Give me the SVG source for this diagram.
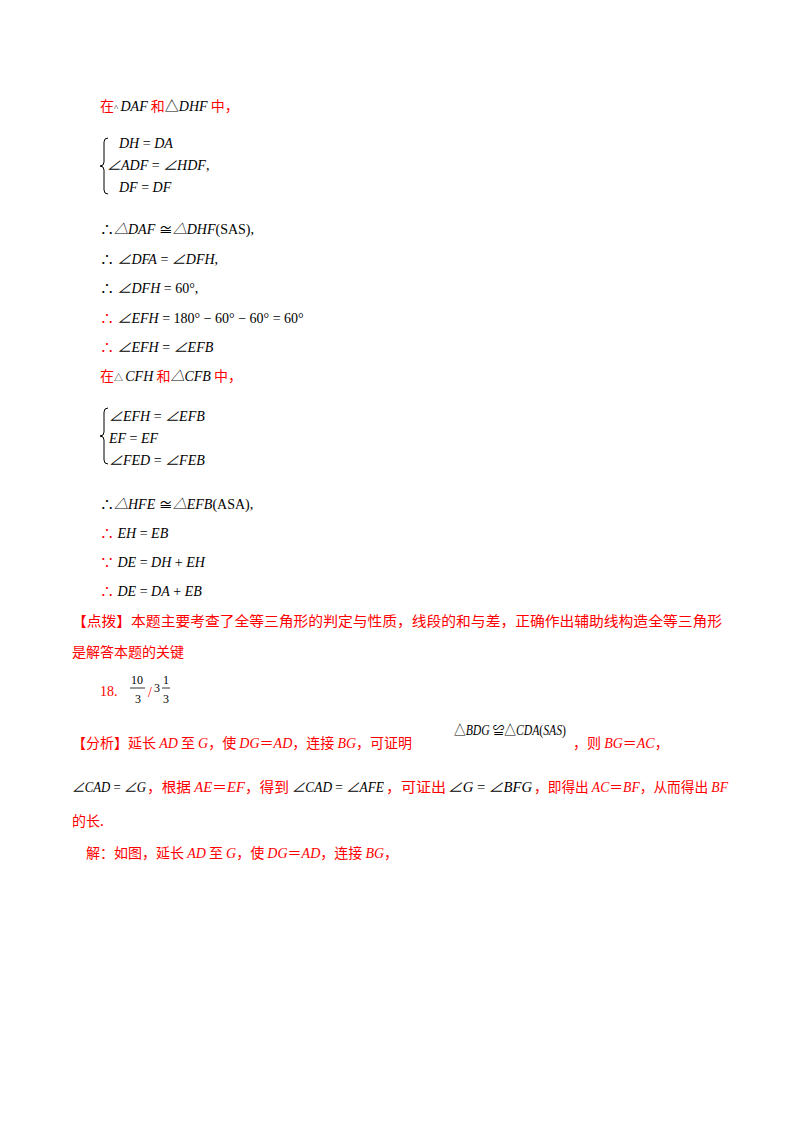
<svg xmlns="http://www.w3.org/2000/svg" width="800" height="1132" viewBox="0 0 800 1132">
<style>
text{font-family:"Liberation Serif","Noto Sans CJK SC",serif;font-size:14px;fill:#000}
.r{fill:#f00}
.c{font-family:"Noto Sans CJK SC","Liberation Serif",sans-serif}
.i{font-style:italic}
.s{font-size:12px}
.b{fill:none;stroke:#000;stroke-width:1}
</style>
<rect width="800" height="1132" fill="#fff"/>
<g id="text">
<text x="100" y="111"><tspan class="r c">在</tspan><tspan font-size="9">^ </tspan><tspan class="i">DAF</tspan><tspan class="r c"> 和</tspan>△<tspan class="i">DHF</tspan><tspan class="r c"> 中，</tspan></text>
<path class="b" d="M108,138 q-4,0 -4,4 v20 q0,4 -4,4 q4,0 4,4 v20 q0,4 4,4"/>
<text x="119" y="148" class="i">DH <tspan font-style="normal">=</tspan> DA</text>
<text x="107" y="170" class="i">∠ADF <tspan font-style="normal">=</tspan> ∠HDF<tspan font-style="normal">,</tspan></text>
<text x="119" y="192" class="i">DF <tspan font-style="normal">=</tspan> DF</text>
<text x="100" y="234">∴<tspan class="i">△DAF</tspan> ≅<tspan class="i">△DHF</tspan>(SAS),</text>
<text x="100" y="264">∴ <tspan class="i">∠DFA</tspan> = <tspan class="i">∠DFH</tspan>,</text>
<text x="100" y="293">∴ <tspan class="i">∠DFH</tspan> = 60°,</text>
<text x="100" y="323"><tspan class="r">∴</tspan> <tspan class="i">∠EFH</tspan> = 180° − 60° − 60° = 60°</text>
<text x="100" y="352"><tspan class="r">∴</tspan> <tspan class="i">∠EFH</tspan> = <tspan class="i">∠EFB</tspan></text>
<text x="100" y="381"><tspan class="r c">在</tspan><tspan font-size="9">△ </tspan><tspan class="i">CFH</tspan><tspan class="r c"> 和</tspan><tspan class="i">△CFB</tspan><tspan class="r c"> 中，</tspan></text>
<path class="b" d="M108,408 q-4,0 -4,4 v20 q0,4 -4,4 q4,0 4,4 v20 q0,4 4,4"/>
<text x="109" y="421" class="i">∠EFH <tspan font-style="normal">=</tspan> ∠EFB</text>
<text x="109" y="443" class="i">EF <tspan font-style="normal">=</tspan> EF</text>
<text x="109" y="465" class="i">∠FED <tspan font-style="normal">=</tspan> ∠FEB</text>
<text x="100" y="509">∴<tspan class="i">△HFE</tspan> ≅<tspan class="i">△EFB</tspan>(ASA),</text>
<text x="100" y="538"><tspan class="r">∴</tspan> <tspan class="i">EH</tspan> = <tspan class="i">EB</tspan></text>
<text x="100" y="567"><tspan class="r">∵</tspan> <tspan class="i">DE</tspan> = <tspan class="i">DH</tspan> + <tspan class="i">EH</tspan></text>
<text x="100" y="596"><tspan class="r">∴</tspan> <tspan class="i">DE</tspan> = <tspan class="i">DA</tspan> + <tspan class="i">EB</tspan></text>
<text x="72" y="626" class="r c" textLength="650" lengthAdjust="spacingAndGlyphs">【点拨】本题主要考查了全等三角形的判定与性质，线段的和与差，正确作出辅助线构造全等三角形</text>
<text x="72" y="657" class="r c" font-size="15">是解答本题的关键</text>
<text x="100" y="696" class="r" font-size="13">18.</text>
<text x="131" y="684" class="s">10</text>
<line x1="130" y1="688" x2="145" y2="688" stroke="#000" stroke-width="0.8"/>
<text x="135" y="703" class="s">3</text>
<text x="148" y="697" class="r">/</text>
<text x="154" y="692" class="s">3</text>
<text x="163" y="684" class="s">1</text>
<line x1="162" y1="688" x2="170" y2="688" stroke="#000" stroke-width="0.8"/>
<text x="163" y="703" class="s">3</text>
<text x="72" y="748" class="r c">【分析】延长 <tspan class="i" font-family="Liberation Serif">AD</tspan> 至 <tspan class="i" font-family="Liberation Serif">G</tspan>，使 <tspan class="i" font-family="Liberation Serif">DG</tspan>＝<tspan class="i" font-family="Liberation Serif">AD</tspan>，连接 <tspan class="i" font-family="Liberation Serif">BG</tspan>，可证明</text>
<text x="454" y="735" font-size="12" textLength="112" lengthAdjust="spacingAndGlyphs">△<tspan class="i">BDG</tspan> ≌△<tspan class="i">CDA</tspan>(<tspan class="i">SAS</tspan>)</text>
<text x="573" y="748" class="r c">，则 <tspan class="i" font-family="Liberation Serif">BG</tspan>＝<tspan class="i" font-family="Liberation Serif">AC</tspan>，</text>
<text x="72" y="792" font-size="13" textLength="74" lengthAdjust="spacingAndGlyphs"><tspan class="i">∠CAD</tspan> = <tspan class="i">∠G</tspan></text>
<text x="147" y="792" class="r c" textLength="142" lengthAdjust="spacingAndGlyphs">，根据 <tspan class="i" font-family="Liberation Serif">AE</tspan>＝<tspan class="i" font-family="Liberation Serif">EF</tspan>，得到</text>
<text x="292" y="792" font-size="13" textLength="92" lengthAdjust="spacingAndGlyphs"><tspan class="i">∠CAD</tspan> = <tspan class="i">∠AFE</tspan></text>
<text x="386" y="792" class="r c" textLength="60" lengthAdjust="spacingAndGlyphs">，可证出</text>
<text x="448" y="792" font-size="13" textLength="84" lengthAdjust="spacingAndGlyphs"><tspan class="i">∠G</tspan> = <tspan class="i">∠BFG</tspan></text>
<text x="534" y="792" class="r c" textLength="194" lengthAdjust="spacingAndGlyphs">，即得出 <tspan class="i" font-family="Liberation Serif">AC</tspan>＝<tspan class="i" font-family="Liberation Serif">BF</tspan>，从而得出 <tspan class="i" font-family="Liberation Serif">BF</tspan></text>
<text x="72" y="826" class="r c">的长.</text>
<text x="86" y="858" class="r c">解：如图，延长 <tspan class="i" font-family="Liberation Serif">AD</tspan> 至 <tspan class="i" font-family="Liberation Serif">G</tspan>，使 <tspan class="i" font-family="Liberation Serif">DG</tspan>＝<tspan class="i" font-family="Liberation Serif">AD</tspan>，连接 <tspan class="i" font-family="Liberation Serif">BG</tspan>，</text>
</g>
</svg>
